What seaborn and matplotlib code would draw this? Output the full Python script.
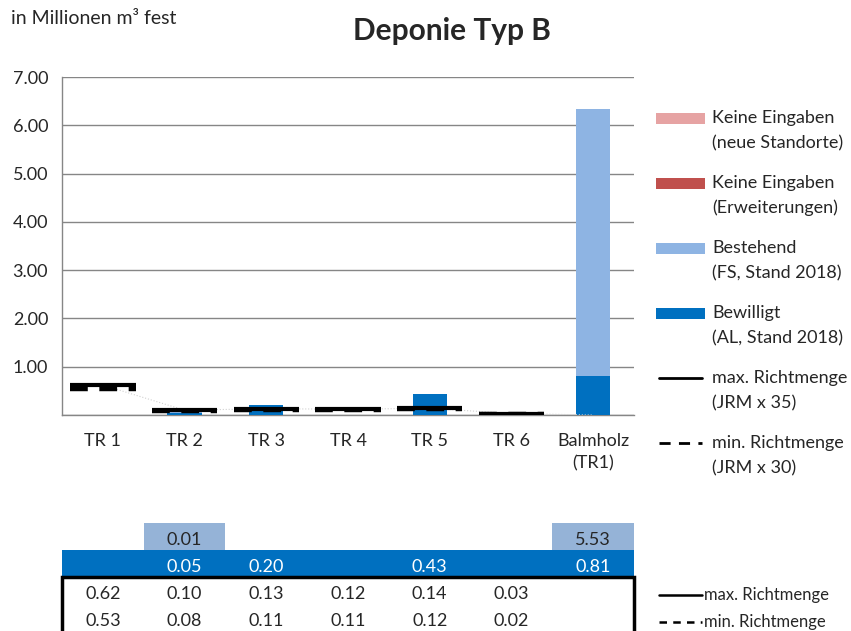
import numpy as np
import pandas as pd
import matplotlib
matplotlib.use("Agg")
import matplotlib.pyplot as plt
from matplotlib.patches import Rectangle
import seaborn as sns

# Daten (in Millionen m3 fest)
kategorien = ["TR 1", "TR 2", "TR 3", "TR 4", "TR 5", "TR 6", "Balmholz\n(TR1)"]
bestehend = [np.nan, 0.01, np.nan, np.nan, np.nan, np.nan, 5.53]
bewilligt = [np.nan, 0.05, 0.20, np.nan, 0.43, np.nan, 0.81]
max_richtmenge = [0.62, 0.10, 0.13, 0.12, 0.14, 0.03, np.nan]
min_richtmenge = [0.53, 0.08, 0.11, 0.11, 0.12, 0.02, np.nan]

legende = [
    ("Keine Eingaben", "(neue Standorte)"),
    ("Keine Eingaben", "(Erweiterungen)"),
    ("Bestehend", "(FS, Stand 2018)"),
    ("Bewilligt", "(AL, Stand 2018)"),
    ("max. Richtmenge", "(JRM x 35)"),
    ("min. Richtmenge", "(JRM x 30)"),
]

# Farben
c_neu = "#E6A3A3"
c_erw = "#C0504D"
c_best = "#8EB4E3"
c_bew = "#0070C0"
c_tab_best = "#95B3D7"
c_grau = "#868686"

sns.set_style("white")
plt.rcParams["font.family"] = ["Lato", "DejaVu Sans"]

df = pd.DataFrame({
    "kategorie": kategorien,
    "bestehend": bestehend,
    "bewilligt": bewilligt,
    "max": max_richtmenge,
    "min": min_richtmenge,
})
df["gesamt"] = df["bestehend"].fillna(0) + df["bewilligt"].fillna(0)
df["bew0"] = df["bewilligt"].fillna(0)

fig = plt.figure(figsize=(8.51, 6.31), dpi=100)
ax = fig.add_axes([62 / 851, 216 / 631, 572 / 851, 338 / 631])

# Gestapelte Balken: Gesamt (hell) hinten, Bewilligt (dunkel) davor
sns.barplot(data=df, x="kategorie", y="gesamt", color=c_best, width=0.42,
            saturation=1, errorbar=None, linewidth=0, ax=ax, zorder=2)
sns.barplot(data=df, x="kategorie", y="bew0", color=c_bew, width=0.42,
            saturation=1, errorbar=None, linewidth=0, ax=ax, zorder=3)

x = np.arange(len(kategorien))
# feine gepunktete Verbindungslinien
ax.plot(x, np.nan_to_num(df["max"].values), color="#d0d0d0", ls=":", lw=0.8, zorder=3)
ax.hlines(df["min"], x - 0.4, x + 0.4, color="black", lw=3.2,
          linestyles=(0, (4, 2.6)), zorder=4)
ax.hlines(df["max"], x - 0.4, x + 0.4, color="black", lw=3, zorder=5)

ax.set_xlim(-0.5, 6.5)
ax.set_ylim(0, 7)
ax.set_yticks(np.arange(0, 8, 1))
ax.set_yticklabels([""] + [f"{v:.2f}" for v in range(1, 8)], fontsize=13)
ax.set_xticks(x)
ax.set_xticklabels(kategorien, fontsize=13, linespacing=1.45)
ax.set_xticks(np.arange(-0.5, 7, 1), minor=True)
ax.tick_params(axis="x", which="major", length=0, pad=13)
ax.tick_params(axis="x", which="minor", length=7, color=c_grau, width=1, direction="out")
ax.tick_params(axis="y", length=6, color=c_grau, width=1, direction="out", pad=4)
ax.set_xlabel("")
ax.set_ylabel("")
ax.yaxis.grid(True, color=c_grau, lw=1)
ax.set_axisbelow(True)
for s in ["top", "right"]:
    ax.spines[s].set_visible(False)
for s in ["left", "bottom"]:
    ax.spines[s].set_color(c_grau)
    ax.spines[s].set_linewidth(1)

fig.text(452 / 851, 1 - 31 / 631, "Deponie Typ B", ha="center", va="center",
         fontsize=21.5, fontweight="bold")
fig.text(11 / 851, 1 - 18 / 631, "in Millionen m³ fest", ha="left", va="center",
         fontsize=14)

# Legende rechts (Pixel-Koordinaten)
lax = fig.add_axes([0, 0, 1, 1], facecolor="none")
lax.set_xlim(0, 851)
lax.set_ylim(631, 0)
lax.axis("off")
farben = [c_neu, c_erw, c_best, c_bew]
y0 = 118
for i, (z1, z2) in enumerate(legende):
    yy = y0 + i * 65
    if i < 4:
        lax.add_patch(Rectangle((656, yy - 5), 49, 11, color=farben[i], lw=0))
    elif i == 4:
        lax.plot([659, 702], [yy, yy], color="black", lw=2)
    else:
        lax.plot([659, 702], [yy, yy], color="black", lw=2, ls=(0, (4, 3)))
    lax.text(712, yy, z1, ha="left", va="center", fontsize=13)
    lax.text(712, yy + 25, z2, ha="left", va="center", fontsize=13)

# Datentabelle unten
tax = fig.add_axes([62 / 851, 0, 572 / 851, 108 / 631], facecolor="none")
tax.set_xlim(-0.5, 6.5)
tax.set_ylim(0, 4)
tax.axis("off")
dy = 0.13  # Text etwas unterhalb der Zellmitte
for i, v in enumerate(bestehend):
    if not np.isnan(v):
        tax.add_patch(Rectangle((i - 0.5, 3), 1, 1, color=c_tab_best, lw=0))
        tax.text(i, 3.5 - dy, f"{v:.2f}", ha="center", va="center", fontsize=13)
tax.add_patch(Rectangle((-0.5, 2), 7, 1, color=c_bew, lw=0))
for i, v in enumerate(bewilligt):
    if not np.isnan(v):
        tax.text(i, 2.5 - dy, f"{v:.2f}", ha="center", va="center", fontsize=13,
                 color="white")
tax.add_patch(Rectangle((-0.5, -1), 7, 3, fill=False, edgecolor="black", lw=2.5,
                        clip_on=False))
for i, (a, b) in enumerate(zip(max_richtmenge, min_richtmenge)):
    if not np.isnan(a):
        tax.text(i, 1.5 - dy, f"{a:.2f}", ha="center", va="center", fontsize=13)
        tax.text(i, 0.5 - dy, f"{b:.2f}", ha="center", va="center", fontsize=13)

lax.plot([659, 702], [595, 595], color="black", lw=1.8)
lax.plot([659, 702], [622, 622], color="black", lw=1.8, ls=(0, (3, 2.5)))
lax.text(704, 595, "max. Richtmenge", ha="left", va="center", fontsize=12)
lax.text(704, 622, "min. Richtmenge", ha="left", va="center", fontsize=12)

fig.savefig("out.png", dpi=100)
